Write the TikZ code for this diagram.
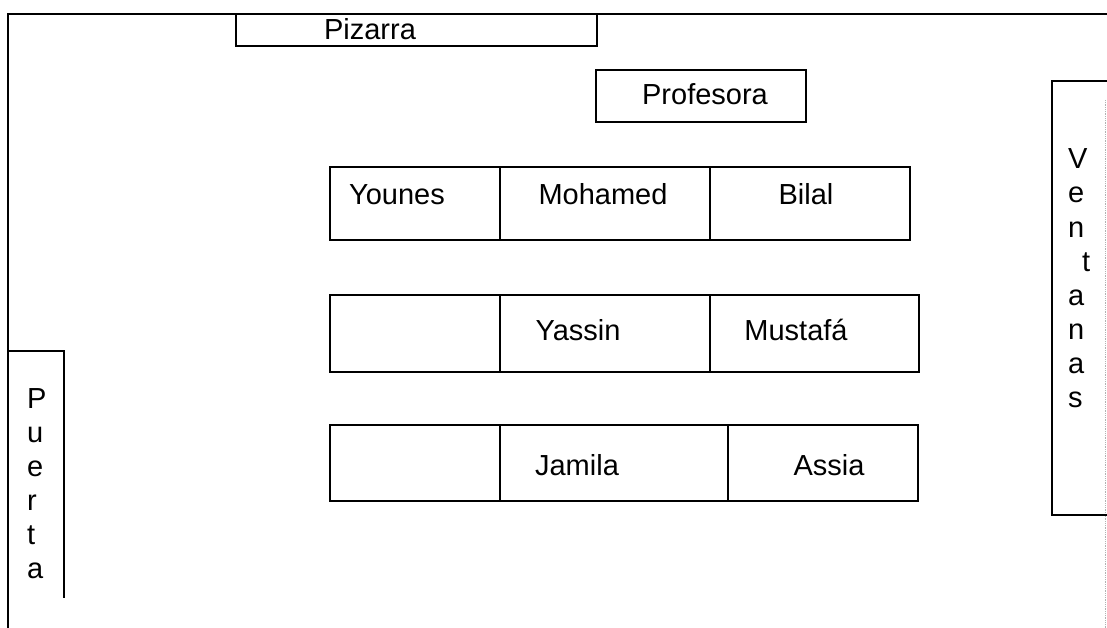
\documentclass[tikz,border=0pt]{standalone}
\usepackage{fontspec}
\setmainfont{Liberation Sans}
\usetikzlibrary{positioning}
\tikzset{
  plano/.style={line width=2pt},
  nombre/.style={anchor=base, inner sep=0pt, font=\fontsize{29}{34}\selectfont},
  letra/.style={anchor=base west, inner sep=0pt, font=\fontsize{29}{34}\selectfont}
}

\begin{document}
\begin{tikzpicture}[x=1pt, y=-1pt]
  \useasboundingbox (0,0) rectangle (1107,628);
  % paredes
  \draw[plano] (8,628) -- (8,14) -- (1107,14);
  \draw[gray!60, densely dotted, line width=0.8pt] (1105,100) -- (1105,628);
  % pizarra y profesora
  \draw[plano] (236,14) rectangle (597,46);
  \node[nombre] (pizarra) at (370,40) {Pizarra};
  \draw[plano] (596,70) rectangle (806,122);
  \node[nombre] (profesora) at (705,105) {Profesora};
  % mesas
  \draw[plano] (330,167) rectangle (910,240);
  \draw[plano] (500,167) -- (500,240);
  \draw[plano] (710,167) -- (710,240);
  \node[nombre] (younes) at (397,205) {Younes};
  \node[nombre] (mohamed) at (603,205) {Mohamed};
  \node[nombre] (bilal) at (806,205) {Bilal};
  \draw[plano] (330,295) rectangle (919,372);
  \draw[plano] (500,295) -- (500,372);
  \draw[plano] (710,295) -- (710,372);
  \node[nombre] (yassin) at (578,340) {Yassin};
  \node[nombre] (mustafa) at (796,340) {Mustafá};
  \draw[plano] (330,425) rectangle (918,501);
  \draw[plano] (500,425) -- (500,501);
  \draw[plano] (728,425) -- (728,501);
  \node[nombre] (jamila) at (577,475) {Jamila};
  \node[nombre] (assia) at (829,475) {Assia};
  % puerta
  \draw[plano] (8,351) -- (64,351) -- (64,598);
  \foreach \l [count=\i] in {P,u,e,r,t,a}
    \node[letra] (p\i) at (27,{408+34*(\i-1)}) {\l};
  % ventanas
  \draw[plano] (1107,81) -- (1052,81) -- (1052,515) -- (1107,515);
  \foreach \l/\dx [count=\i] in {V/0,e/0,n/0,t/14,a/0,n/0,a/0,s/0}
    \node[letra] (v\i) at ({1068+\dx},{169+34*(\i-1)}) {\l};
\end{tikzpicture}
\end{document}
